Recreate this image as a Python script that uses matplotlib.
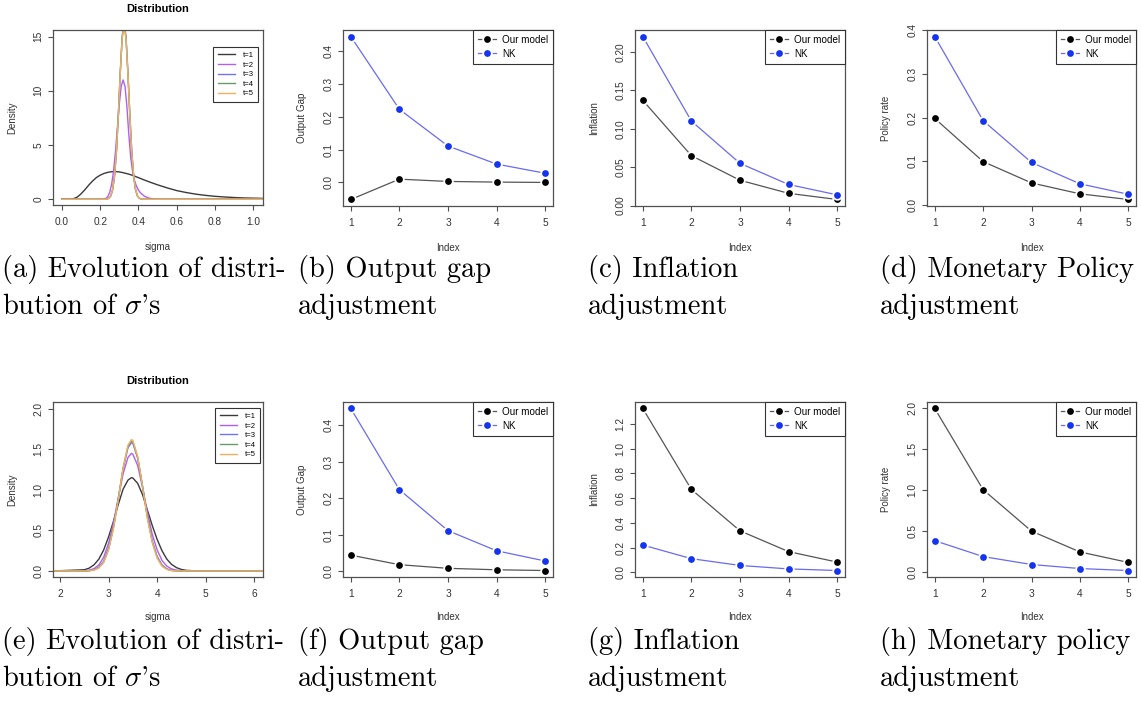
import matplotlib
matplotlib.use('Agg')
import matplotlib.pyplot as plt

# ---------------- data ----------------
idx = [1, 2, 3, 4, 5]

og1_model = [-0.052, 0.010, 0.003, 0.001, 0.000]
og1_nk = [0.445, 0.223, 0.111, 0.056, 0.028]
inf1_model = [0.137, 0.065, 0.033, 0.016, 0.008]
inf1_nk = [0.220, 0.110, 0.055, 0.0275, 0.014]
pr1_model = [0.198, 0.099, 0.050, 0.025, 0.012]
pr1_nk = [0.386, 0.193, 0.097, 0.048, 0.024]

og2_model = [0.044, 0.018, 0.008, 0.004, 0.002]
og2_nk = [0.445, 0.223, 0.111, 0.056, 0.028]
inf2_model = [1.325, 0.670, 0.335, 0.167, 0.082]
inf2_nk = [0.220, 0.110, 0.055, 0.027, 0.014]
pr2_model = [1.990, 1.005, 0.502, 0.250, 0.122]
pr2_nk = [0.386, 0.193, 0.097, 0.048, 0.024]

# panel (a) densities of sigma
a_x1 = [0.0, 0.04, 0.06, 0.08, 0.10, 0.12, 0.14, 0.16, 0.18, 0.20, 0.22, 0.24,
        0.26, 0.28, 0.30, 0.32, 0.34, 0.36, 0.38, 0.40, 0.43, 0.46, 0.50, 0.55,
        0.60, 0.65, 0.70, 0.75, 0.80, 0.85, 0.90, 0.95, 1.00, 1.05, 1.10]
a_y1 = [0.0, 0.0, 0.05, 0.2, 0.5, 0.88, 1.3, 1.68, 2.0, 2.22, 2.38, 2.48,
        2.54, 2.55, 2.52, 2.45, 2.36, 2.26, 2.13, 1.99, 1.78, 1.58, 1.33, 1.05,
        0.80, 0.62, 0.47, 0.36, 0.27, 0.21, 0.16, 0.12, 0.10, 0.08, 0.07]
a_x2 = [0.0, 0.22, 0.23, 0.24, 0.25, 0.26, 0.27, 0.28, 0.29, 0.30, 0.31, 0.32,
        0.33, 0.34, 0.35, 0.36, 0.37, 0.38, 0.39, 0.40, 0.41, 0.43, 0.45, 0.47,
        0.49, 0.51, 1.10]
a_y2 = [0, 0, 0.08, 0.25, 0.65, 1.4, 2.6, 4.4, 6.6, 8.8, 10.4, 11.0,
        10.4, 8.5, 5.9, 3.8, 2.5, 1.7, 1.2, 0.85, 0.6, 0.3, 0.13, 0.05,
        0.01, 0, 0]
a_xp = [0.0, 0.225, 0.235, 0.245, 0.255, 0.265, 0.275, 0.285, 0.295, 0.305,
        0.315, 0.325, 0.335, 0.345, 0.355, 0.365, 0.375, 0.385, 0.395, 0.405,
        0.415, 0.425, 1.10]
a_y3 = [0, 0, 0.02, 0.09, 0.3, 0.87, 2.12, 4.4, 7.8, 11.7, 15.0, 16.3,
        15.0, 11.7, 7.8, 4.4, 2.12, 0.87, 0.3, 0.09, 0.02, 0, 0]
a_y4 = [0, 0, 0.02, 0.1, 0.31, 0.88, 2.15, 4.42, 7.8, 11.65, 14.9, 16.15,
        14.9, 11.65, 7.8, 4.42, 2.15, 0.88, 0.31, 0.1, 0.02, 0, 0]
a_y5 = [0, 0, 0.02, 0.1, 0.32, 0.9, 2.17, 4.45, 7.8, 11.6, 14.8, 16.0,
        14.8, 11.6, 7.8, 4.45, 2.17, 0.9, 0.32, 0.1, 0.02, 0, 0]

# panel (e) densities of sigma
e_x = [1.85, 2.5, 2.6, 2.7, 2.8, 2.9, 3.0, 3.1, 3.2, 3.3, 3.4, 3.47, 3.5,
       3.6, 3.7, 3.8, 3.9, 4.0, 4.1, 4.2, 4.3, 4.4, 4.5, 4.6, 4.8, 6.2]
e_y1 = [0, 0.015, 0.035, 0.076, 0.146, 0.26, 0.42, 0.61, 0.82, 1.01, 1.12, 1.15, 1.146,
        1.08, 0.94, 0.75, 0.56, 0.39, 0.25, 0.146, 0.08, 0.041, 0.019, 0.008, 0.001, 0]
e_y2 = [0, 0.003, 0.01, 0.029, 0.074, 0.17, 0.34, 0.59, 0.90, 1.20, 1.40, 1.45, 1.44,
        1.30, 1.03, 0.72, 0.45, 0.26, 0.13, 0.06, 0.025, 0.01, 0.004, 0.001, 0, 0]
e_y3 = [0, 0.0, 0.004, 0.015, 0.046, 0.12, 0.28, 0.54, 0.89, 1.26, 1.52, 1.58, 1.575,
        1.39, 1.04, 0.67, 0.37, 0.18, 0.075, 0.027, 0.008, 0.002, 0, 0, 0, 0]
e_y4 = [0, 0, 0.003, 0.013, 0.041, 0.11, 0.27, 0.53, 0.885, 1.27, 1.54, 1.60, 1.595,
        1.40, 1.04, 0.66, 0.36, 0.17, 0.065, 0.022, 0.006, 0.001, 0, 0, 0, 0]
e_y5 = [0, 0, 0.003, 0.012, 0.038, 0.108, 0.26, 0.52, 0.88, 1.27, 1.55, 1.62, 1.61,
        1.41, 1.04, 0.65, 0.35, 0.16, 0.06, 0.02, 0.005, 0.001, 0, 0, 0, 0]

t_labels = ['t=1', 't=2', 't=3', 't=4', 't=5']
t_colors = ['#3a3a3a', '#b25ff0', '#7272f2', '#6a9a6a', '#f3b160']

captions_top = [
    ['(a) Evolution of distri-', "bution of $\\sigma$'s"],
    ['(b) Output gap', 'adjustment'],
    ['(c) Inflation', 'adjustment'],
    ['(d) Monetary Policy', 'adjustment'],
]
captions_bot = [
    ['(e) Evolution of distri-', "bution of $\\sigma$'s"],
    ['(f) Output gap', 'adjustment'],
    ['(g) Inflation', 'adjustment'],
    ['(h) Monetary policy', 'adjustment'],
]

# ---------------- figure ----------------
plt.rcParams['font.family'] = ['Liberation Sans', 'DejaVu Sans']
plt.rcParams['mathtext.fontset'] = 'cm'

W, H = 1141, 723
fig = plt.figure(figsize=(W / 100, H / 100), dpi=100)


def box(l, t, r, b):
    return fig.add_axes([l / W, 1 - b / H, (r - l) / W, (b - t) / H])


def style(ax, xlabel, ylabel, xl_y):
    for s in ax.spines.values():
        s.set_color('#505050')
        s.set_linewidth(0.9)
    ax.tick_params(direction='out', length=3.6, width=0.8, color='#505050',
                   labelsize=7.3, labelcolor='#333333')
    ax.tick_params(axis='x', pad=5)
    ax.tick_params(axis='y', pad=3.4, labelrotation=90)
    for lab in ax.get_yticklabels():
        lab.set_verticalalignment('center')
    ax.set_xlabel(xlabel, fontsize=7, color='#333333')
    ax.set_ylabel(ylabel, fontsize=7, color='#333333')
    ax.yaxis.set_label_coords(-0.172, 0.5)
    ax.xaxis.set_label_coords(0.5, xl_y)
    ax.xaxis.label.set_verticalalignment('top')


def index_panel(ax, model, nk, ylabel, yt, ytl, xl_y):
    ax.plot(idx, model, color='#555555', lw=0.9, marker='o', ms=6.2,
            mfc='black', mec='white', mew=1.3, label='Our model')
    ax.plot(idx, nk, color='#6a6aee', lw=0.9, marker='o', ms=6.2,
            mfc='#1534f0', mec='white', mew=1.3, label='NK')
    ax.margins(x=0.04, y=0.04)
    ax.set_xticks(idx)
    ax.set_xticklabels([str(i) for i in idx])
    ax.set_yticks(yt)
    ax.set_yticklabels(ytl)
    leg = ax.legend(loc='upper right', borderaxespad=0, fontsize=7.1,
                    fancybox=False, framealpha=1, handlelength=1.9,
                    labelspacing=0.4, borderpad=0.5, handletextpad=0.55)
    leg.get_frame().set_edgecolor('#333333')
    leg.get_frame().set_linewidth(0.8)
    style(ax, 'Index', ylabel, xl_y)


def dens_panel(ax, xs, ys, xlim, ylim, xt, xtl, yt, ytl, anchor, xl_y):
    for x, y, c, lab in zip(xs, ys, t_colors, t_labels):
        ax.plot(x, y, color=c, lw=1.0, label=lab)
    ax.set_xlim(xlim)
    ax.set_ylim(ylim)
    ax.set_xticks(xt)
    ax.set_xticklabels(xtl)
    ax.set_yticks(yt)
    ax.set_yticklabels(ytl)
    ax.set_title('Distribution', fontsize=8, fontweight='bold', pad=13)
    leg = ax.legend(loc='upper right', bbox_to_anchor=anchor, borderaxespad=0,
                    fontsize=5.5, fancybox=False, framealpha=1, handlelength=2.2,
                    labelspacing=0.3, borderpad=0.6, handletextpad=1.0)
    leg.get_frame().set_edgecolor('#333333')
    leg.get_frame().set_linewidth(0.8)
    style(ax, 'sigma', 'Density', xl_y)


# row 1
ax = box(53, 30, 263, 205)
dens_panel(ax, [a_x1, a_x2, a_xp, a_xp, a_xp], [a_y1, a_y2, a_y3, a_y4, a_y5],
           (-0.047, 1.052), (-0.53, 15.6),
           [0.0, 0.2, 0.4, 0.6, 0.8, 1.0], ['0.0', '0.2', '0.4', '0.6', '0.8', '1.0'],
           [0, 5, 10, 15], ['0', '5', '10', '15'], (0.976, 0.903), -0.211)

ax = box(343, 30, 553, 206)
index_panel(ax, og1_model, og1_nk, 'Output Gap',
            [0.0, 0.1, 0.2, 0.3, 0.4], ['0.0', '0.1', '0.2', '0.3', '0.4'], -0.211)
ax = box(635, 30, 845, 206)
index_panel(ax, inf1_model, inf1_nk, 'Inflation',
            [0.0, 0.05, 0.10, 0.15, 0.20], ['0.00', '0.05', '0.10', '0.15', '0.20'], -0.211)
ax = box(927, 30, 1136, 206)
index_panel(ax, pr1_model, pr1_nk, 'Policy rate',
            [0.0, 0.1, 0.2, 0.3, 0.4], ['0.0', '0.1', '0.2', '0.3', '0.4'], -0.211)

# row 2
ax = box(53, 402, 263, 577)
dens_panel(ax, [e_x] * 5, [e_y1, e_y2, e_y3, e_y4, e_y5],
           (1.856, 6.18), (-0.074, 2.083),
           [2, 3, 4, 5, 6], ['2', '3', '4', '5', '6'],
           [0.0, 0.5, 1.0, 1.5, 2.0], ['0.0', '0.5', '1.0', '1.5', '2.0'],
           (0.986, 0.966), -0.2)

ax = box(343, 402, 553, 577)
index_panel(ax, og2_model, og2_nk, 'Output Gap',
            [0.0, 0.1, 0.2, 0.3, 0.4], ['0.0', '0.1', '0.2', '0.3', '0.4'], -0.2)
ax = box(635, 402, 845, 577)
index_panel(ax, inf2_model, inf2_nk, 'Inflation',
            [0.0, 0.2, 0.4, 0.6, 0.8, 1.0, 1.2],
            ['0.0', '0.2', '0.4', '0.6', '0.8', '1.0', '1.2'], -0.2)
ax = box(927, 402, 1136, 577)
index_panel(ax, pr2_model, pr2_nk, 'Policy rate',
            [0.0, 0.5, 1.0, 1.5, 2.0], ['0.0', '0.5', '1.0', '1.5', '2.0'], -0.2)

# captions
cap_x = [2, 298, 588, 880]
for caps, ys in ((captions_top, (277, 314)), (captions_bot, (649, 686))):
    for x, lines in zip(cap_x, caps):
        for y, s in zip(ys, lines):
            fig.text(x / W, 1 - y / H, s, family='cmr10', fontsize=20.5,
                     va='baseline', ha='left')

fig.savefig('out.png', dpi=100)
